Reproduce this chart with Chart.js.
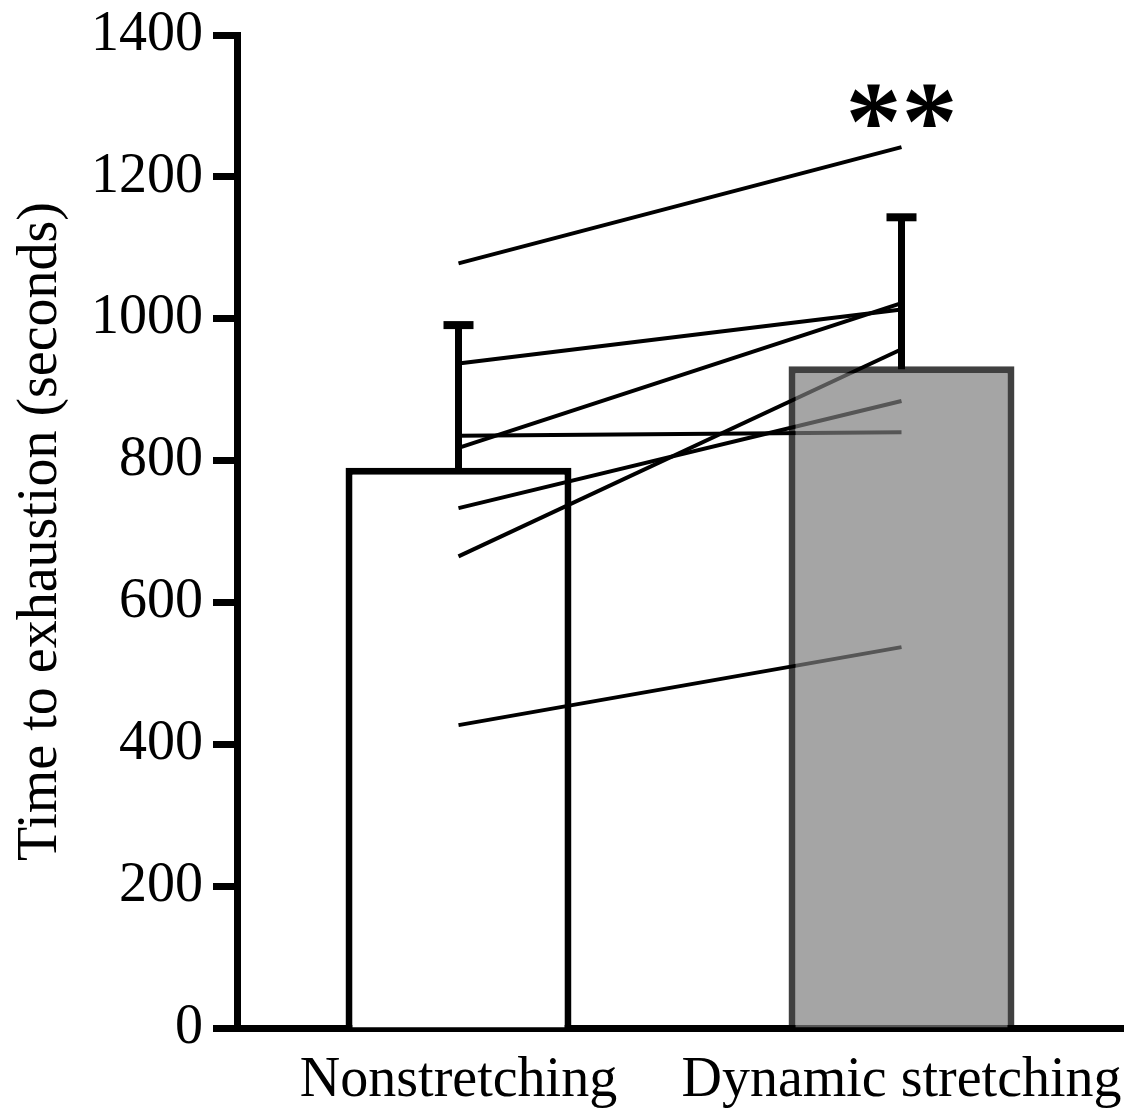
<!DOCTYPE html>
<html>
<head>
<meta charset="utf-8">
<script src="https://cdn.jsdelivr.net/npm/chart.js@4/dist/chart.umd.min.js"></script>
<style>
  html, body { margin: 0; padding: 0; background: #fff; }
  canvas { display: block; }
</style>
</head>
<body>
<canvas id="chart" width="1132" height="1113"></canvas>
<script>
// group means, upper SD and per-subject values (seconds)
const categories = ["Nonstretching", "Dynamic stretching"];
const means = [790, 933];
const sds = [201, 210];
const nonstretching = [1078, 937, 818, 835, 733, 665, 427];
const dynamic = [1242, 1013, 1022, 840, 884, 957, 537];
const yTicks = [0, 200, 400, 600, 800, 1000, 1200, 1400];
const marks = ["", "**"];
const markAt = 1300;

const FONT = "'Liberation Serif', 'Times New Roman', serif";

// error bars + significance stars, drawn through the scales
const extras = {
  id: "extras",
  afterDatasetsDraw(chart) {
    const { ctx, scales: { x, y } } = chart;
    ctx.save();
    ctx.strokeStyle = "#000";
    ctx.lineCap = "butt";
    means.forEach((m, i) => {
      const px = x.getPixelForValue(i);
      const base = y.getPixelForValue(m);
      const top = y.getPixelForValue(m + sds[i]);
      ctx.lineWidth = 7;
      ctx.beginPath(); ctx.moveTo(px, base + 3); ctx.lineTo(px, top); ctx.stroke();
      ctx.lineWidth = 8;
      ctx.beginPath(); ctx.moveTo(px - 15, top); ctx.lineTo(px + 15, top); ctx.stroke();
    });
    ctx.fillStyle = "#000";
    ctx.font = "bold 112px " + FONT;
    ctx.textAlign = "center";
    ctx.textBaseline = "alphabetic";
    marks.forEach((t, i) => {
      if (!t) return;
      const m = ctx.measureText(t);
      const cy = y.getPixelForValue(markAt);
      ctx.fillText(t, x.getPixelForValue(i), cy + (m.actualBoundingBoxAscent - m.actualBoundingBoxDescent) / 2);
    });
    ctx.restore();
  }
};

const lineSets = nonstretching.map((v, i) => ({
  type: "line",
  data: [v, dynamic[i]],
  borderColor: "#000",
  borderWidth: 4,
  pointRadius: 0,
  fill: false,
  tension: 0,
  order: 2,
}));

new Chart(document.getElementById("chart").getContext("2d"), {
  type: "bar",
  data: {
    labels: categories,
    datasets: [
      { data: [means[0], null], backgroundColor: "#fff", borderColor: "#000", borderWidth: 7, grouped: false, order: 3 },
      ...lineSets,
      { data: [null, means[1]], backgroundColor: "rgba(124,124,124,0.69)", borderColor: "rgba(0,0,0,0.75)", borderWidth: 7, grouped: false, order: 1 },
    ],
  },
  options: {
    responsive: false,
    animation: false,
    layout: { padding: { top: 35, right: 9, left: 0, bottom: 0 } },
    plugins: { legend: { display: false }, tooltip: { enabled: false } },
    datasets: { bar: { categoryPercentage: 1, barPercentage: 0.51 } },
    scales: {
      x: {
        z: 1,
        grid: { display: false, drawTicks: false },
        border: { display: true, color: "#000", width: 7 },
        ticks: { color: "#000", padding: 25, maxRotation: 0, minRotation: 0, autoSkip: false, font: { family: FONT, size: 56, lineHeight: 1 } },
        afterFit: s => { s.height = 85; s.paddingLeft = 0; s.paddingRight = 0; },
      },
      y: {
        min: 0,
        max: 1400,
        afterBuildTicks: s => { s.ticks = yTicks.map(v => ({ value: v })); },
        grid: { drawOnChartArea: false, drawTicks: true, tickLength: 24, tickWidth: 7, tickColor: "#000" },
        border: { display: true, color: "#000", width: 7 },
        ticks: { color: "#000", padding: 10, callback: v => String(v), font: { family: FONT, size: 56, lineHeight: 1 } },
        title: { display: true, text: "Time to exhaustion (seconds)", color: "#000", padding: 8, font: { family: FONT, size: 56 } },
        afterFit: s => { s.width = 237; s.paddingTop = 0; s.paddingBottom = 0; },
      },
    },
  },
  plugins: [extras],
});
</script>
</body>
</html>
